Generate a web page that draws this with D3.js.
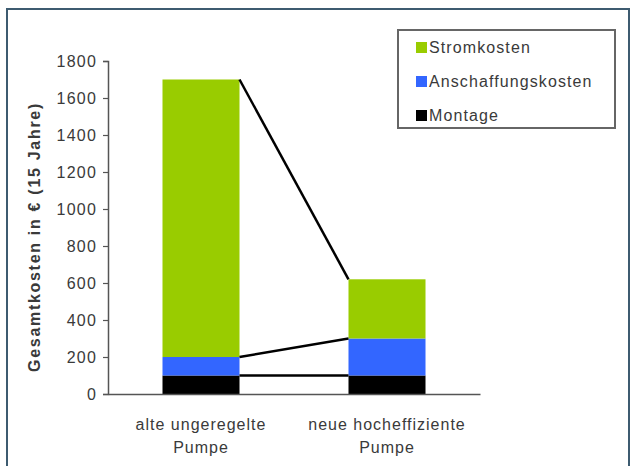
<!DOCTYPE html>
<html>
<head>
<meta charset="utf-8">
<script src="https://cdn.jsdelivr.net/npm/d3@7"></script>
<style>
  html, body { margin: 0; padding: 0; background: #fff; }
  svg { display: block; font-family: "Liberation Sans", Arial, sans-serif; }
</style>
</head>
<body>
<svg id="chart" width="632" height="466"></svg>
<script>
(function () {
  'use strict';

  // data
  var categories = ['alte ungeregelte|Pumpe', 'neue hocheffiziente|Pumpe'];
  var seriesNames = ['Montage', 'Anschaffungskosten', 'Stromkosten'];
  var montage = [100, 100];
  var anschaffung = [100, 200];
  var strom = [1500, 320];
  var yTicks = [0, 200, 400, 600, 800, 1000, 1200, 1400, 1600, 1800];
  var legendOrder = ['Stromkosten', 'Anschaffungskosten', 'Montage'];

  var colors = { Montage: '#000000', Anschaffungskosten: '#3366ff', Stromkosten: '#99cc00' };
  var textColor = '#3a3a3a';

  var rows = categories.map(function (c, i) {
    return { cat: c, Montage: montage[i], Anschaffungskosten: anschaffung[i], Stromkosten: strom[i] };
  });
  var stacked = d3.stack().keys(seriesNames)(rows);

  var svg = d3.select('#chart');

  // outer frame
  svg.append('rect')
    .attr('x', 7).attr('y', 9)
    .attr('width', 622).attr('height', 470)
    .attr('fill', 'none')
    .attr('stroke', '#3d5b70')
    .attr('stroke-width', 2);

  var x = d3.scaleBand()
    .domain(categories)
    .range([108, 480])
    .paddingInner(0.586)
    .paddingOuter(0.293);

  var y = d3.scaleLinear().domain([0, 1800]).range([394, 61]);

  // bars
  var layer = svg.append('g')
    .selectAll('g')
    .data(stacked)
    .enter()
    .append('g')
    .attr('fill', function (d) { return colors[d.key]; });

  layer.selectAll('rect')
    .data(function (d) { return d; })
    .enter()
    .append('rect')
    .attr('x', function (d) { return x(d.data.cat); })
    .attr('y', function (d) { return y(d[1]); })
    .attr('width', x.bandwidth())
    .attr('height', function (d) { return y(d[0]) - y(d[1]); });

  // series lines joining the stack tops
  svg.append('g')
    .selectAll('line')
    .data(stacked)
    .enter()
    .append('line')
    .attr('x1', x(categories[0]) + x.bandwidth())
    .attr('x2', x(categories[1]))
    .attr('y1', function (d) { return y(d[0][1]); })
    .attr('y2', function (d) { return y(d[1][1]); })
    .attr('stroke', '#000')
    .attr('stroke-width', 2.5);

  // y axis
  var yAxis = svg.append('g')
    .attr('transform', 'translate(108,0)')
    .call(d3.axisLeft(y).tickValues(yTicks).tickSize(5).tickPadding(6).tickFormat(d3.format('d')));
  yAxis.select('.domain').attr('stroke', '#555').attr('stroke-width', 1.5);
  yAxis.selectAll('.tick line').attr('stroke', '#555').attr('stroke-width', 1.2);
  yAxis.selectAll('.tick text')
    .attr('fill', textColor)
    .style('font-size', '16px')
    .style('letter-spacing', '1.2px')
    .style('font-family', '"Liberation Sans", Arial, sans-serif');

  // x axis
  var xAxis = svg.append('g')
    .attr('transform', 'translate(0,394)')
    .call(d3.axisBottom(x).tickSize(0).tickFormat(''));
  xAxis.select('.domain').attr('stroke', '#555').attr('stroke-width', 1.5);

  var catLabels = svg.append('g')
    .selectAll('text')
    .data(categories)
    .enter()
    .append('text')
    .attr('text-anchor', 'middle')
    .attr('fill', textColor)
    .style('font-size', '16px')
    .style('letter-spacing', '1px');
  catLabels.each(function (d) {
    var t = d3.select(this);
    d.split('|').forEach(function (part, i) {
      t.append('tspan')
        .attr('x', x(d) + x.bandwidth() / 2)
        .attr('y', 430 + i * 23)
        .text(part);
    });
  });

  // y axis title
  svg.append('text')
    .attr('transform', 'translate(40,237) rotate(-90)')
    .attr('text-anchor', 'middle')
    .attr('fill', textColor)
    .style('font-size', '16px')
    .style('font-weight', 'bold')
    .style('letter-spacing', '1.7px')
    .text('Gesamtkosten in € (15 Jahre)');

  // legend
  var legend = svg.append('g');
  legend.append('rect')
    .attr('x', 398).attr('y', 30)
    .attr('width', 217).attr('height', 98)
    .attr('fill', '#fff')
    .attr('stroke', '#666')
    .attr('stroke-width', 2);

  var item = legend.selectAll('g.item')
    .data(legendOrder)
    .enter()
    .append('g')
    .attr('class', 'item')
    .attr('transform', function (d, i) { return 'translate(416,' + (47 + i * 34) + ')'; });

  item.append('rect')
    .attr('x', 0).attr('y', -5)
    .attr('width', 11).attr('height', 11)
    .attr('fill', function (d) { return colors[d]; });

  item.append('text')
    .attr('x', 13)
    .attr('dy', '0.35em')
    .attr('fill', textColor)
    .style('font-size', '16px')
    .style('letter-spacing', '1.1px')
    .text(function (d) { return d; });
})();
</script>
</body>
</html>
